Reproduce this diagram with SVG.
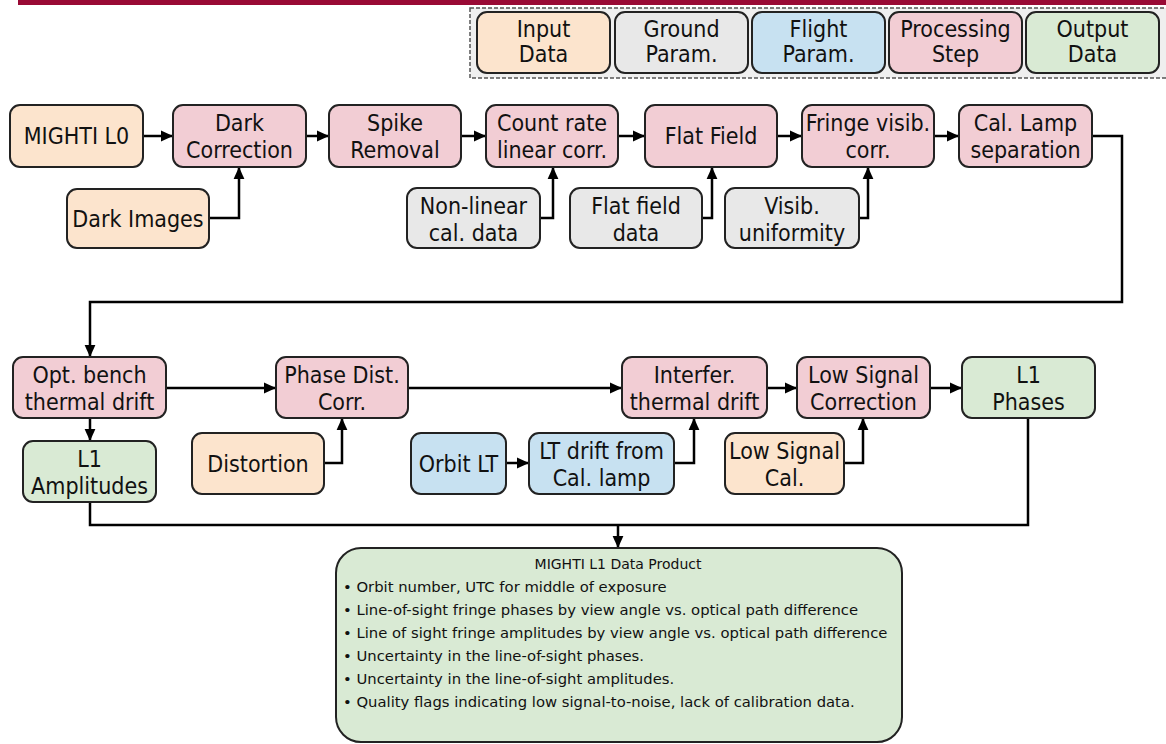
<svg xmlns="http://www.w3.org/2000/svg" width="1166" height="744" viewBox="0 0 1166 744">
  <defs>
    <marker id="arrow" markerUnits="userSpaceOnUse" markerWidth="12" markerHeight="12" viewBox="0 0 10 10" refX="10" refY="5" orient="auto">
      <path d="M0,0.5 L10,5 L0,9.5 Z" fill="#000"/>
    </marker>
    <style>
      .box { stroke: #222; stroke-width: 2; }
      .input { fill: #fce4cd; }
      .ground { fill: #e8e8e8; }
      .flight { fill: #c7e1f1; }
      .proc { fill: #f2cdd4; }
      .output { fill: #d9ead4; }
      .lbl { font-family: "DejaVu Sans Condensed", "DejaVu Sans", sans-serif; font-size: 23px; fill: #111; text-anchor: middle; }
      .title { font-family: "DejaVu Sans", sans-serif; font-size: 14px; fill: #111; text-anchor: middle; }
      .small { font-family: "DejaVu Sans", sans-serif; font-size: 14.8px; fill: #111; }
      .wire { fill: none; stroke: #000; stroke-width: 2.5; }
      .arr { marker-end: url(#arrow); }
    </style>
  </defs>

  <rect width="1166" height="744" fill="#fff"/>

  <!-- header rule -->
  <rect x="18" y="0" width="1148" height="5" fill="#990a35"/>

  <!-- legend -->
  <g id="legend">
    <rect x="470" y="8" width="700" height="70" fill="#efefef" stroke="#555" stroke-width="1.5" stroke-dasharray="4,2"/>
    <g id="legend-input">
      <rect class="box input" x="477" y="12" width="133" height="61" rx="10"/>
      <text class="lbl" x="543.5" y="37">Input</text>
      <text class="lbl" x="543.5" y="62">Data</text>
    </g>
    <g id="legend-ground">
      <rect class="box ground" x="615" y="12" width="133" height="61" rx="10"/>
      <text class="lbl" x="681.5" y="37">Ground</text>
      <text class="lbl" x="681.5" y="62">Param.</text>
    </g>
    <g id="legend-flight">
      <rect class="box flight" x="752" y="12" width="133" height="61" rx="10"/>
      <text class="lbl" x="818.5" y="37">Flight</text>
      <text class="lbl" x="818.5" y="62">Param.</text>
    </g>
    <g id="legend-proc">
      <rect class="box proc" x="889" y="12" width="133" height="61" rx="10"/>
      <text class="lbl" x="955.5" y="37">Processing</text>
      <text class="lbl" x="955.5" y="62">Step</text>
    </g>
    <g id="legend-output">
      <rect class="box output" x="1026" y="12" width="133" height="61" rx="10"/>
      <text class="lbl" x="1092.5" y="37">Output</text>
      <text class="lbl" x="1092.5" y="62">Data</text>
    </g>
  </g>

  <!-- connectors -->
  <g id="connectors">
    <path class="wire arr" d="M143,136 H173"/>
    <path class="wire arr" d="M306,136 H329"/>
    <path class="wire arr" d="M461,136 H486"/>
    <path class="wire arr" d="M618,136 H645"/>
    <path class="wire arr" d="M777,136 H802"/>
    <path class="wire arr" d="M934,136 H959"/>
    <path class="wire arr" d="M209,218 H239 V167"/>
    <path class="wire arr" d="M540,218 H553 V167"/>
    <path class="wire arr" d="M702,218 H712 V167"/>
    <path class="wire arr" d="M859,218 H868 V167"/>
    <path class="wire arr" d="M1092,136 H1122 V302 H90 V357"/>
    <path class="wire arr" d="M166,388 H276"/>
    <path class="wire arr" d="M408,388 H622"/>
    <path class="wire arr" d="M767,388 H797"/>
    <path class="wire arr" d="M930,388 H962"/>
    <path class="wire arr" d="M90,418 V441"/>
    <path class="wire arr" d="M324,463 H342 V418"/>
    <path class="wire arr" d="M506,463 H529"/>
    <path class="wire arr" d="M674,463 H694 V418"/>
    <path class="wire arr" d="M844,463 H863 V418"/>
    <path class="wire" d="M90,502 V525 H1028 V418"/>
    <path class="wire arr" d="M618,525 V548"/>
  </g>

  <!-- first processing row -->
  <g id="mighti-l0">
    <rect class="box input" x="10" y="105" width="133" height="62" rx="10"/>
    <text class="lbl" x="76.5" y="144">MIGHTI L0</text>
  </g>
  <g id="dark-correction">
    <rect class="box proc" x="173" y="105" width="133" height="62" rx="10"/>
    <text class="lbl" x="239.5" y="131">Dark</text>
    <text class="lbl" x="239.5" y="158">Correction</text>
  </g>
  <g id="spike-removal">
    <rect class="box proc" x="329" y="105" width="132" height="62" rx="10"/>
    <text class="lbl" x="395" y="131">Spike</text>
    <text class="lbl" x="395" y="158">Removal</text>
  </g>
  <g id="count-rate">
    <rect class="box proc" x="486" y="105" width="132" height="62" rx="10"/>
    <text class="lbl" x="552" y="131">Count rate</text>
    <text class="lbl" x="552" y="158">linear corr.</text>
  </g>
  <g id="flat-field">
    <rect class="box proc" x="645" y="105" width="132" height="62" rx="10"/>
    <text class="lbl" x="711" y="144">Flat Field</text>
  </g>
  <g id="fringe-visib">
    <rect class="box proc" x="802" y="105" width="132" height="62" rx="10"/>
    <text class="lbl" x="868" y="131">Fringe visib.</text>
    <text class="lbl" x="868" y="158">corr.</text>
  </g>
  <g id="cal-lamp">
    <rect class="box proc" x="959" y="105" width="133" height="62" rx="10"/>
    <text class="lbl" x="1025.5" y="131">Cal. Lamp</text>
    <text class="lbl" x="1025.5" y="158">separation</text>
  </g>

  <!-- first row inputs -->
  <g id="dark-images">
    <rect class="box input" x="67" y="189" width="142" height="59" rx="10"/>
    <text class="lbl" x="138" y="227">Dark Images</text>
  </g>
  <g id="nonlinear-cal">
    <rect class="box ground" x="407" y="188" width="133" height="60" rx="10"/>
    <text class="lbl" x="473.5" y="214">Non-linear</text>
    <text class="lbl" x="473.5" y="241">cal. data</text>
  </g>
  <g id="flat-field-data">
    <rect class="box ground" x="570" y="188" width="132" height="60" rx="10"/>
    <text class="lbl" x="636" y="214">Flat field</text>
    <text class="lbl" x="636" y="241">data</text>
  </g>
  <g id="visib-uniformity">
    <rect class="box ground" x="725" y="188" width="134" height="60" rx="10"/>
    <text class="lbl" x="792" y="214">Visib.</text>
    <text class="lbl" x="792" y="241">uniformity</text>
  </g>

  <!-- second processing row -->
  <g id="opt-bench">
    <rect class="box proc" x="13" y="357" width="153" height="61" rx="10"/>
    <text class="lbl" x="89.5" y="383">Opt. bench</text>
    <text class="lbl" x="89.5" y="410">thermal drift</text>
  </g>
  <g id="phase-dist">
    <rect class="box proc" x="276" y="357" width="132" height="61" rx="10"/>
    <text class="lbl" x="342" y="383">Phase Dist.</text>
    <text class="lbl" x="342" y="410">Corr.</text>
  </g>
  <g id="interfer-drift">
    <rect class="box proc" x="622" y="357" width="145" height="61" rx="10"/>
    <text class="lbl" x="694.5" y="383">Interfer.</text>
    <text class="lbl" x="694.5" y="410">thermal drift</text>
  </g>
  <g id="low-signal-corr">
    <rect class="box proc" x="797" y="357" width="133" height="61" rx="10"/>
    <text class="lbl" x="863.5" y="383">Low Signal</text>
    <text class="lbl" x="863.5" y="410">Correction</text>
  </g>
  <g id="l1-phases">
    <rect class="box output" x="962" y="357" width="133" height="61" rx="10"/>
    <text class="lbl" x="1028.5" y="383">L1</text>
    <text class="lbl" x="1028.5" y="410">Phases</text>
  </g>

  <!-- second row inputs and outputs -->
  <g id="l1-amplitudes">
    <rect class="box output" x="23" y="441" width="133" height="61" rx="10"/>
    <text class="lbl" x="89.5" y="467">L1</text>
    <text class="lbl" x="89.5" y="494">Amplitudes</text>
  </g>
  <g id="distortion">
    <rect class="box input" x="192" y="433" width="132" height="61" rx="10"/>
    <text class="lbl" x="258" y="472">Distortion</text>
  </g>
  <g id="orbit-lt">
    <rect class="box flight" x="411" y="433" width="95" height="61" rx="10"/>
    <text class="lbl" x="458.5" y="472">Orbit LT</text>
  </g>
  <g id="lt-drift">
    <rect class="box flight" x="529" y="433" width="145" height="61" rx="10"/>
    <text class="lbl" x="601.5" y="459">LT drift from</text>
    <text class="lbl" x="601.5" y="486">Cal. lamp</text>
  </g>
  <g id="low-signal-cal">
    <rect class="box input" x="725" y="433" width="119" height="61" rx="10"/>
    <text class="lbl" x="784.5" y="459">Low Signal</text>
    <text class="lbl" x="784.5" y="486">Cal.</text>
  </g>

  <!-- data product summary -->
  <g id="data-product">
    <rect class="box output" x="336" y="548" width="566" height="194" rx="25"/>
    <text class="title" x="618" y="569">MIGHTI L1 Data Product</text>
    <g class="small">
      <text x="343" y="592">• Orbit number, UTC for middle of exposure</text>
      <text x="343" y="615">• Line-of-sight fringe phases by view angle vs. optical path difference</text>
      <text x="343" y="638">• Line of sight fringe amplitudes by view angle vs. optical path difference</text>
      <text x="343" y="661">• Uncertainty in the line-of-sight phases.</text>
      <text x="343" y="684">• Uncertainty in the line-of-sight amplitudes.</text>
      <text x="343" y="707">• Quality flags indicating low signal-to-noise, lack of calibration data.</text>
    </g>
  </g>
</svg>
